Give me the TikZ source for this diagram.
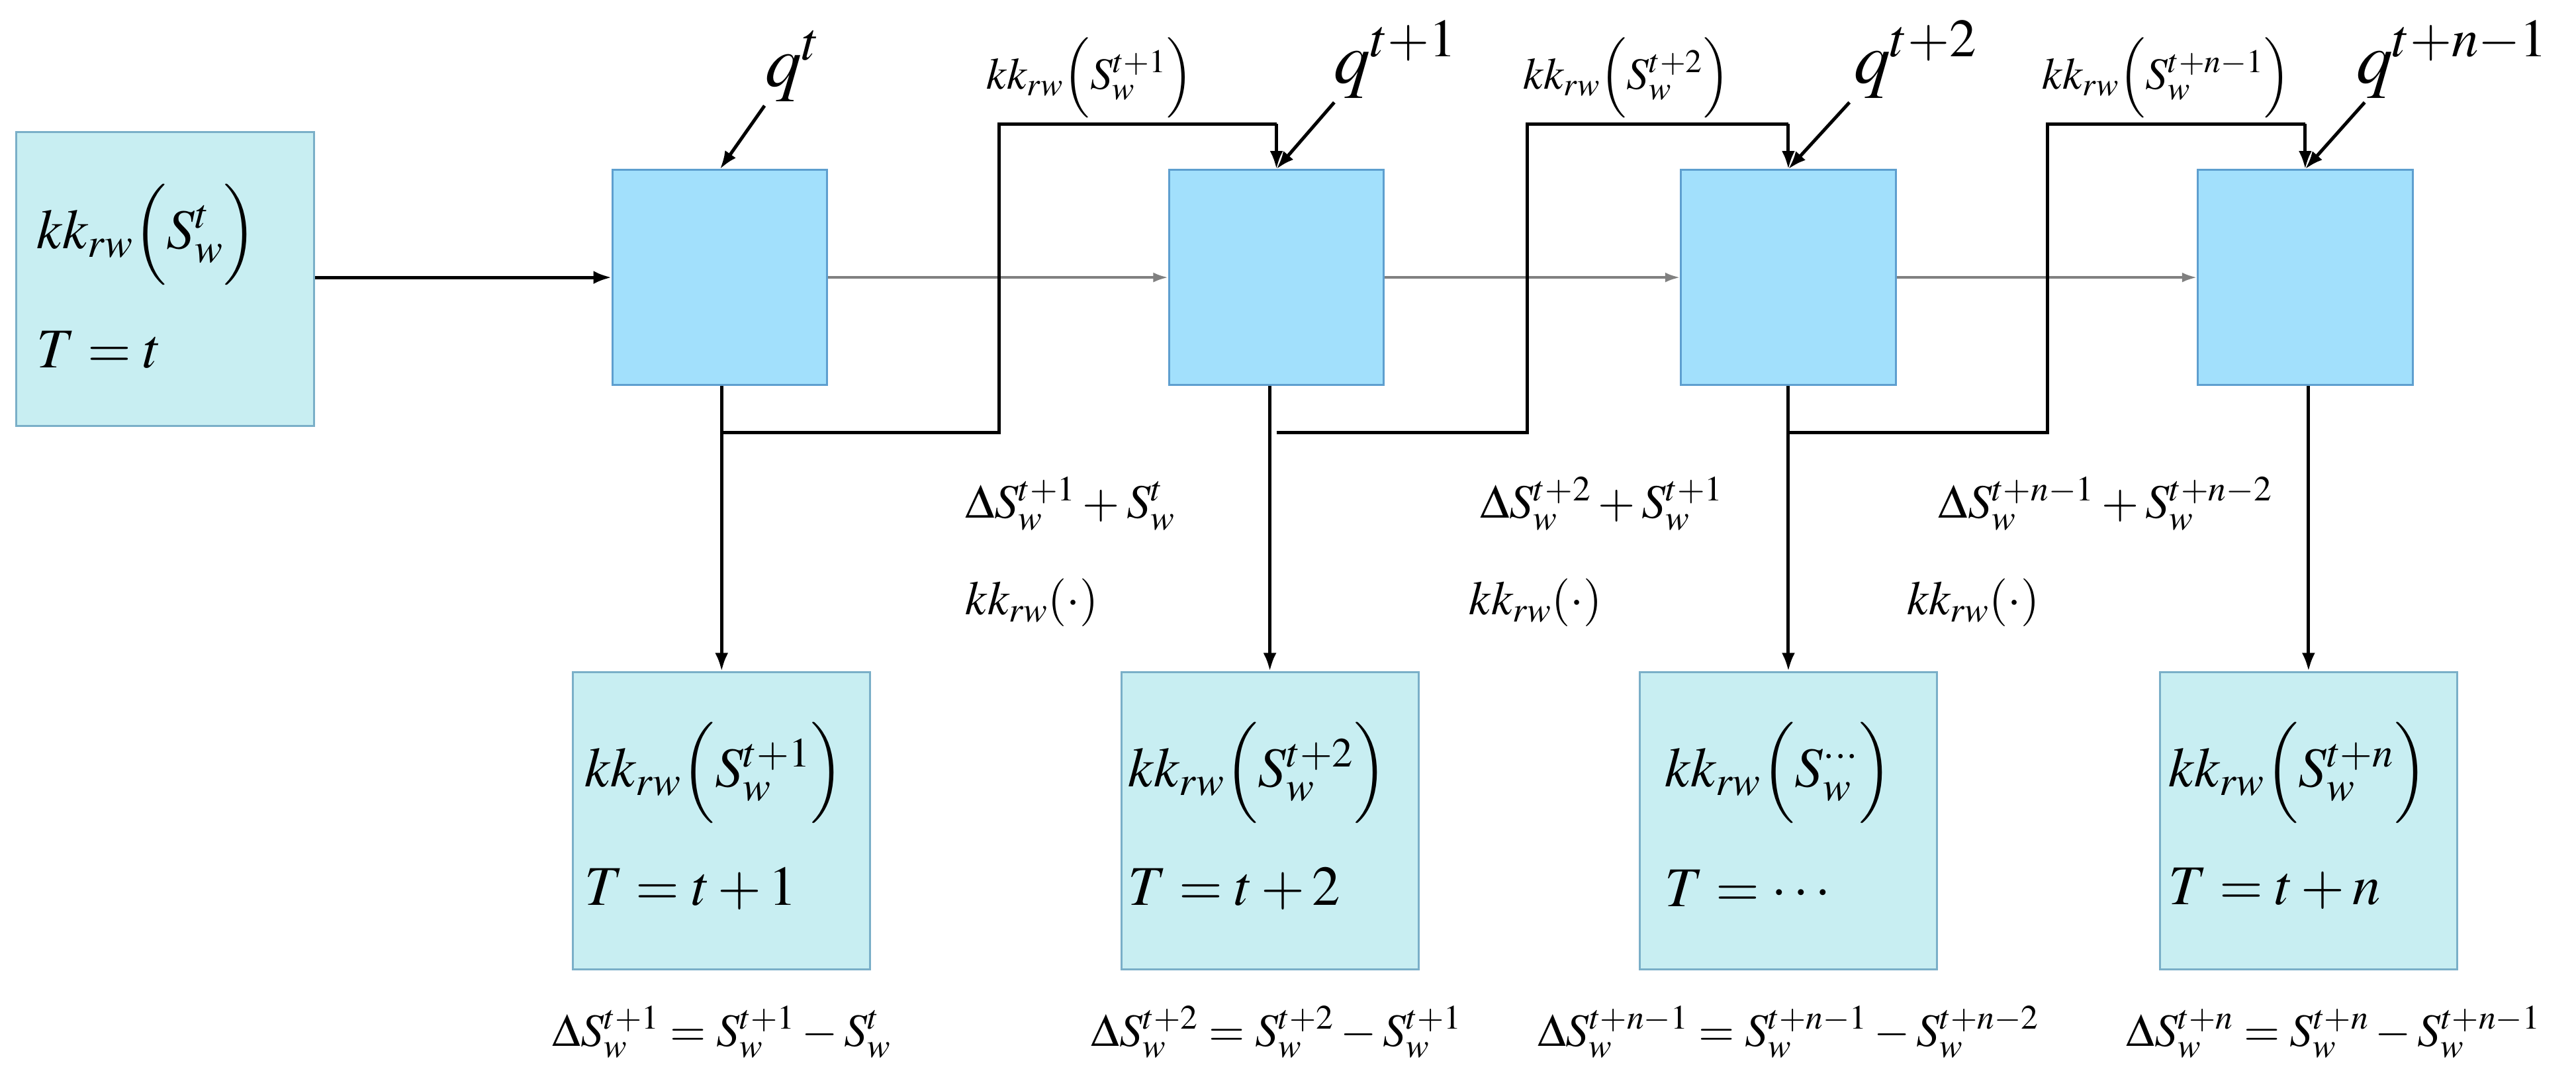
\documentclass[tikz,border=0pt]{standalone}
\usepackage{mathptmx}
\usetikzlibrary{arrows.meta}
\begin{document}
\begin{tikzpicture}[x=1pt,y=-1pt,
  ar/.style={line width=2pt,-{Latex[length=11pt,width=8pt]}},
  ln/.style={line width=2pt},
  gar/.style={line width=1.5pt,gray,-{Latex[length=9pt,width=6pt]}},
  tx/.style={font=\fontsize{34}{40}\selectfont,inner sep=0pt},
  lab/.style={font=\fontsize{29}{34}\selectfont,inner sep=0pt},
  tl/.style={font=\fontsize{27}{32}\selectfont,inner sep=0pt},
  bl/.style={font=\fontsize{28}{32}\selectfont,inner sep=0pt},
  ql/.style={font=\fontsize{44}{50}\selectfont,inner sep=0pt}]
\definecolor{lbf}{HTML}{C8EEF2}\definecolor{lbd}{HTML}{7AAFC8}
\definecolor{bsf}{HTML}{A2E0FC}\definecolor{bsd}{HTML}{5E9FCF}
\tikzset{lb/.style={line width=1.2pt,fill=lbf,draw=lbd},bs/.style={line width=1.2pt,fill=bsf,draw=bsd}}
\useasboundingbox (0,0) rectangle (1560,647);
% left box
\node[lb,minimum width=180pt,minimum height=178pt,inner sep=0pt] (L) at (100,169) {};
\node[tx,anchor=west] (l1) at (22,142) {$kk_{rw}\Bigl(S_w^{t}\Bigr)$};
\node[tx,anchor=west] (l2) at (22,212) {$T=t$};
% blue squares
\foreach \n/\cx in {1/436,2/773,3/1083,4/1396}{
  \node[bs,minimum width=130pt,minimum height=130pt,inner sep=0pt] (B\n) at (\cx,168) {};
}
\draw[ar] (L.east |- B1.west) -- (B1.west);
\draw[gar] (B1.east) -- (B2.west);
\draw[gar] (B2.east) -- (B3.west);
\draw[gar] (B3.east) -- (B4.west);
% bottom boxes
\foreach \n/\cx in {1/437,2/769,3/1083,4/1398}{
  \node[lb,minimum width=180pt,minimum height=180pt,inner sep=0pt] (D\n) at (\cx,497) {};
  \draw[ar] (B\n.south -| D\n.north) -- (D\n.north);
}
\node[tx,anchor=west] at (354,468) {$kk_{rw}\Bigl(S_w^{t+1}\Bigr)$};
\node[tx,anchor=west] at (354,538) {$T=t+1$};
\node[tx,anchor=west] at (683,468) {$kk_{rw}\Bigl(S_w^{t+2}\Bigr)$};
\node[tx,anchor=west] at (683,538) {$T=t+2$};
\node[tx,anchor=west] at (1008,468) {$kk_{rw}\Bigl(S_w^{\cdots}\Bigr)$};
\node[tx,anchor=west] at (1008,538) {$T=\cdots$};
\node[tx,anchor=west] at (1313,468) {$kk_{rw}\Bigl(S_w^{t+n}\Bigr)$};
\node[tx,anchor=west] at (1313,538) {$T=t+n$};
% feedback loops
\foreach \a/\b/\xu in {1/2/605,2/3/925,3/4/1240}{
  \coordinate (c\a) at (B\a.south |- 0,262);
  \draw[ln] (c\a) -- (\xu,262) -- (\xu,75) -- (B\b.north |- 0,75);
  \draw[ar] (B\b.north |- 0,75) -- (B\b.north);
}
\node[tl] at (660,47) {$kk_{rw}\Bigl(S_w^{t+1}\Bigr)$};
\node[tl] at (985,47) {$kk_{rw}\Bigl(S_w^{t+2}\Bigr)$};
\node[tl] at (1312,47) {$kk_{rw}\Bigl(S_w^{t+n-1}\Bigr)$};
% q labels
\node[ql] (q1) at (480,40) {$q^{t}$};
\node[ql] (q2) at (845,36) {$q^{t+1}$};
\node[ql] (q3) at (1160,36) {$q^{t+2}$};
\node[ql] (q4) at (1485,36) {$q^{t+n-1}$};
\coordinate (s1) at (463,64);\coordinate (s2) at (808,62);
\coordinate (s3) at (1120,62);\coordinate (s4) at (1432,62);
\foreach \n in {1,2,3,4}{\draw[ar] (s\n) -- (B\n.north);}
% middle labels
\node[lab] at (648,305) {$\Delta S_w^{t+1}+S_w^{t}$};
\node[lab] at (625,365) {$kk_{rw}(\cdot)$};
\node[lab] at (970,305) {$\Delta S_w^{t+2}+S_w^{t+1}$};
\node[lab] at (930,365) {$kk_{rw}(\cdot)$};
\node[lab] at (1275,305) {$\Delta S_w^{t+n-1}+S_w^{t+n-2}$};
\node[lab] at (1195,365) {$kk_{rw}(\cdot)$};
% bottom formulas
\node[bl] at (437,625) {$\Delta S_w^{t+1}=S_w^{t+1}-S_w^{t}$};
\node[bl] at (773,625) {$\Delta S_w^{t+2}=S_w^{t+2}-S_w^{t+1}$};
\node[bl] at (1083,625) {$\Delta S_w^{t+n-1}=S_w^{t+n-1}-S_w^{t+n-2}$};
\node[bl] at (1413,625) {$\Delta S_w^{t+n}=S_w^{t+n}-S_w^{t+n-1}$};
\end{tikzpicture}
\end{document}
